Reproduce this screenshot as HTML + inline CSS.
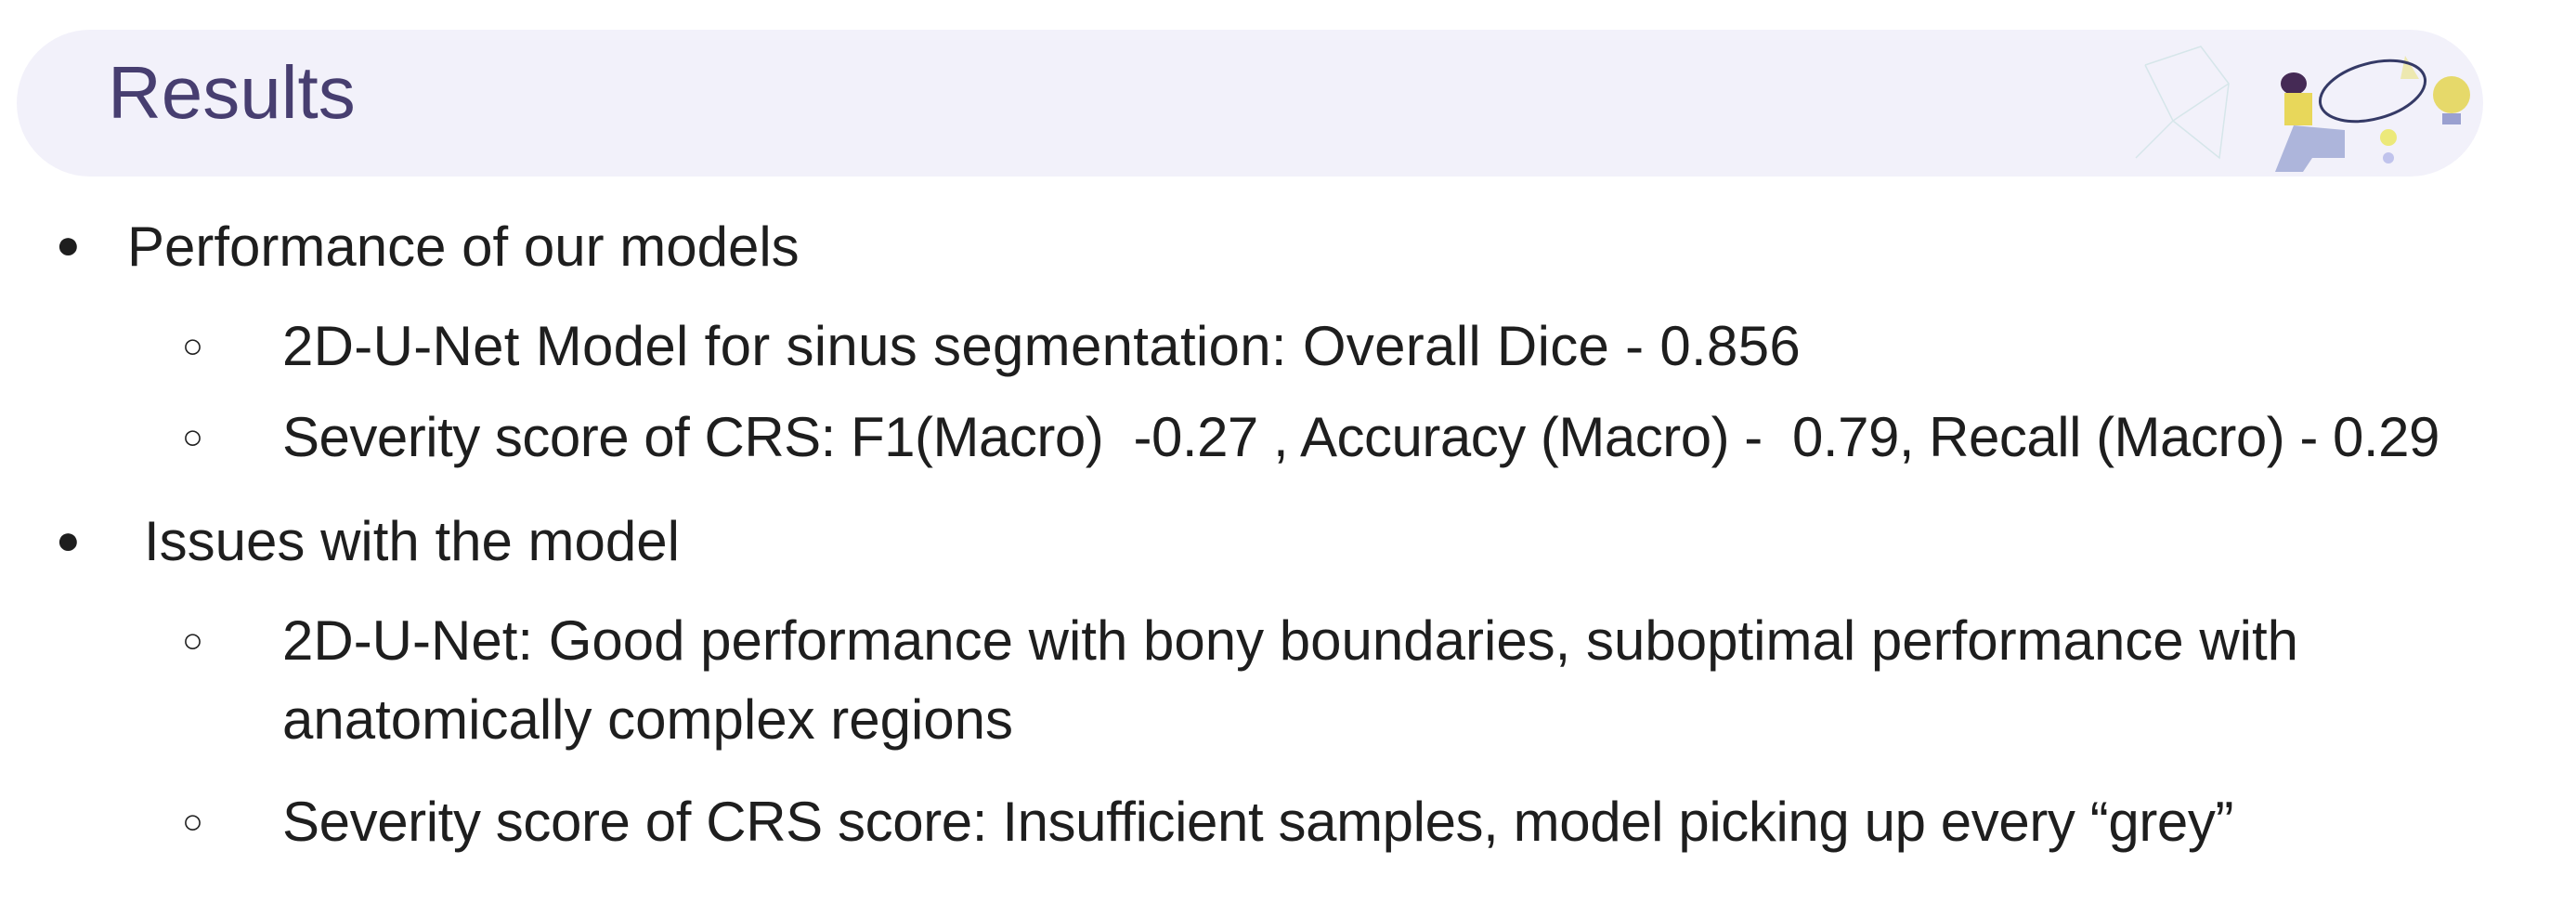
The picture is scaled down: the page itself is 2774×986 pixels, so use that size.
<!DOCTYPE html>
<html><head><meta charset="utf-8"><style>
body{margin:0;width:2774px;height:986px;background:#fff;position:relative;overflow:hidden;font-family:"Liberation Sans",sans-serif;color:#1e1e1e}
.banner{position:absolute;left:18px;top:32px;width:2656px;height:158px;background:#f2f1fa;border-radius:79px}
.title{position:absolute;left:116px;top:60px;font-size:80px;color:#473e70;line-height:1}
.t{position:absolute;font-size:60px;line-height:1;white-space:nowrap;font-weight:300;letter-spacing:0}
.b{position:absolute;font-size:44px;line-height:1}
</style></head><body>
<div class="banner"></div>
<div class="title">Results</div>
<svg style="position:absolute;left:2280px;top:30px" width="400" height="165">
<g stroke="#d6e6ea" stroke-width="1.5" fill="none"><path d="M30 40 L90 20 L120 60 L60 100 L30 40 M60 100 L110 140 L120 60 M20 140 L60 100"/></g>
<path d="M310 30 L325 55 L305 55Z" fill="#ede8b0"/>
<ellipse cx="190" cy="60" rx="14" ry="12" fill="#452a55"/>
<rect x="180" y="70" width="30" height="35" fill="#e8d75a"/>
<path d="M190 105 L245 110 L245 140 L210 140 L200 155 L170 155 Z" fill="#adb5db"/>
<ellipse cx="275" cy="68" rx="58" ry="30" fill="none" stroke="#353a66" stroke-width="3" transform="rotate(-15 275 68)"/>
<circle cx="360" cy="72" r="20" fill="#e6d96a"/>
<rect x="350" y="92" width="20" height="12" fill="#9aa0d0"/>
<circle cx="292" cy="118" r="9" fill="#ece97a"/>
<circle cx="292" cy="140" r="6" fill="#c0c3ec"/>
</svg>
<div class="b" style="left:60px;top:242px">●</div>
<div class="t" style="left:137px;top:236px">Performance of our models</div>
<div class="b" style="left:196px;top:354px;font-size:38px">○</div>
<div class="t" style="left:304px;top:343px;letter-spacing:0.3px">2D-U-Net Model for sinus segmentation: Overall Dice - 0.856</div>
<div class="b" style="left:196px;top:452px;font-size:38px">○</div>
<div class="t" style="left:304px;top:441px;letter-spacing:-0.5px">Severity score of CRS: F1(Macro)&nbsp; -0.27 , Accuracy (Macro) -&nbsp; 0.79, Recall (Macro) - 0.29</div>
<div class="b" style="left:60px;top:560px">●</div>
<div class="t" style="left:155px;top:553px">Issues with the model</div>
<div class="b" style="left:196px;top:671px;font-size:38px">○</div>
<div class="t" style="left:304px;top:660px">2D-U-Net: Good performance with bony boundaries, suboptimal performance with</div>
<div class="t" style="left:304px;top:745px">anatomically complex regions</div>
<div class="b" style="left:196px;top:866px;font-size:38px">○</div>
<div class="t" style="left:304px;top:855px;letter-spacing:-0.4px">Severity score of CRS score: Insufficient samples, model picking up every “grey”</div>
</body></html>
